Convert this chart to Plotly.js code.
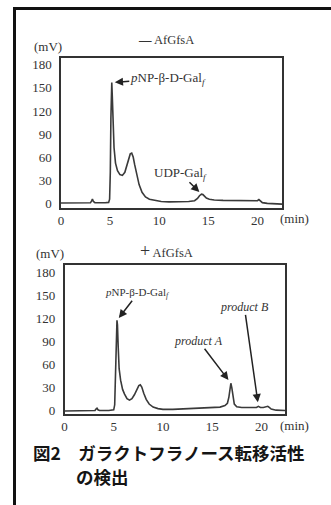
<!DOCTYPE html>
<html>
<head>
<meta charset="utf-8">
<script src="https://cdn.plot.ly/plotly-3.0.1.min.js"></script>
<style>
html,body{margin:0;padding:0;background:#fff;}
#wrap{position:relative;width:331px;height:505px;overflow:hidden;}
.panel{position:absolute;left:0;width:331px;}
.cap{position:absolute;font-family:"Noto Sans CJK JP","Noto Sans",sans-serif;font-weight:bold;font-size:17.5px;line-height:24px;color:#151515;white-space:nowrap;}
.rule{position:absolute;background:#111;}
</style>
</head>
<body>
<div id="wrap">
<div class="panel" id="chartTop" style="top:0px;height:232px;"></div>
<div class="panel" id="chartBottom" style="top:232px;height:212px;"></div>
<div class="cap" id="cap1" style="left:33px;top:441px;"></div>
<div class="cap" id="cap2" style="left:76px;top:465px;"></div>
<div class="rule" style="left:13px;top:7px;width:2.6px;height:498px;"></div>
<div class="rule" style="left:13px;top:7px;width:318px;height:2.6px;"></div>
</div>
<script>
// ---- Data ----
// Top panel: − AfGfsA
const timeMinus = [0, 1, 2, 3.0, 3.1, 3.2, 3.3, 3.45, 4.5, 4.85, 4.95, 5.02, 5.08, 5.13, 5.17, 5.22, 5.3, 5.4, 5.55, 5.75, 6.0, 6.25, 6.5, 6.7, 6.9, 7.05, 7.2, 7.35, 7.5, 7.7, 7.95, 8.25, 8.6, 9.0, 9.5, 10.2, 11, 12, 13, 13.6, 13.9, 14.1, 14.3, 14.45, 14.6, 14.8, 15.1, 15.6, 16.5, 18, 19.5, 20.0, 20.15, 20.3, 20.5, 21, 22, 22.5];
const signalMinus = [0, 0, 0, 0.3, 2.5, 5, 2, 0.5, 0.3, 0.8, 5, 40, 110, 150, 157, 140, 100, 72, 52, 42, 37, 36, 40, 48, 58, 64, 65, 60, 50, 37, 24, 14, 8, 5, 3.5, 2, 1.5, 1.5, 2, 3, 6, 9.5, 11.5, 11, 8.5, 6.5, 5, 4, 3.5, 3, 2.8, 3, 4.5, 2.5, 0.5, -0.5, -1.5, -1.5];
// Bottom panel: + AfGfsA
const timePlus = [0, 1, 2, 3.1, 3.2, 3.3, 3.4, 3.55, 4.5, 5.0, 5.1, 5.2, 5.27, 5.33, 5.38, 5.45, 5.55, 5.7, 5.9, 6.1, 6.35, 6.6, 6.85, 7.1, 7.35, 7.55, 7.7, 7.85, 8.05, 8.3, 8.6, 9.0, 9.5, 10, 11, 12, 13, 14, 15, 15.8, 16.3, 16.55, 16.7, 16.8, 16.9, 17.0, 17.1, 17.25, 17.5, 18, 19, 19.5, 19.7, 19.9, 20.2, 20.5, 20.65, 20.8, 21.0, 21.5, 22.4];
const signalPlus = [0, 0, 0, 0.5, 2.5, 3.5, 1.5, 0.5, 0.5, 1.5, 8, 45, 95, 118, 112, 85, 55, 40, 28, 22, 16, 14, 16, 21, 28, 33, 34, 31, 23, 15, 9, 5, 3, 2, 2, 2.5, 3, 3.5, 4.5, 5, 7, 10, 18, 29, 36, 30, 18, 9, 5.5, 4.5, 4.5, 4.5, 6, 4.5, 4.5, 5, 6, 4.5, 2.5, 1, 0.5];

const xTicks = [0, 5, 10, 15, 20];
const yTicks = [0, 30, 60, 90, 120, 150, 180];
const titleMinus = '<b>—</b> AfGfsA';
const titlePlus = '<span style="font-size:18px">+</span> AfGfsA';
const unitY = '(mV)';
const unitX = '(min)';
const labelPNP = '<i>p</i>NP-β-D-Gal<i><sub>f</sub></i>';
const labelUDP = 'UDP-Gal<i><sub>f</sub></i>';
const labelA = '<i>product A</i>';
const labelB = '<i>product B</i>';
const captionLine1 = '図2　ガラクトフラノース転移活性';
const captionLine2 = 'の検出';

document.getElementById('cap1').textContent = captionLine1;
document.getElementById('cap2').textContent = captionLine2;

// ---- helpers ----
const W = 331;
const serif = 'Liberation Serif, Times New Roman, serif';
const textCol = '#333';

function peakIn(t, y, lo, hi) {
  let best = -1;
  for (let i = 0; i < t.length; i++) {
    if (t[i] >= lo && t[i] <= hi && (best < 0 || y[i] > y[best])) best = i;
  }
  return {x: t[best], y: y[best]};
}

function drawPanel(divId, H, t, y, box, xRange, yRange, texts, pointers) {
  const px = v => v / W;
  const py = v => 1 - v / H;
  const label = (text, cx, cy, size) => ({xref: 'paper', yref: 'paper', x: px(cx), y: py(cy), text: text,
      showarrow: false, xanchor: 'center', yanchor: 'middle',
      font: {family: serif, size: size, color: textCol}});
  const pointer = (p, text, size, ax, ay, standoff) => ({xref: 'x', yref: 'y', x: p.x, y: p.y,
      ax: ax, ay: ay, text: text, showarrow: true, arrowhead: 2, arrowsize: 1.1, arrowwidth: 1.5,
      arrowcolor: '#222', standoff: standoff, borderpad: 0,
      font: {family: serif, size: size, color: textCol}});
  const axisCommon = {
    showline: true, mirror: true, linecolor: '#333', linewidth: 1.6,
    showgrid: false, zeroline: false, ticks: '', fixedrange: true,
    ticklabeloverflow: 'allow',
    tickfont: {family: serif, size: 13, color: textCol}
  };
  const layout = {
    width: W, height: H,
    margin: {l: 0, r: 0, t: 0, b: 0, pad: 0, autoexpand: false},
    paper_bgcolor: 'rgba(0,0,0,0)', plot_bgcolor: '#fff',
    showlegend: false,
    xaxis: Object.assign({}, axisCommon, {domain: [px(box.l), px(box.r)], range: xRange, tickvals: xTicks}),
    yaxis: Object.assign({}, axisCommon, {domain: [py(box.b), py(box.t)], range: yRange, tickvals: yTicks,
           ticklabelstandoff: 5}),
    annotations: texts.map(a => label(a[0], a[1], a[2], a[3]))
      .concat(pointers.map(a => pointer(a[0], a[1], a[2], a[3], a[4], a[5])))
  };
  const trace = {x: t, y: y, mode: 'lines', line: {color: '#3a3a3a', width: 1.6}, hoverinfo: 'skip'};
  return Plotly.newPlot(divId, [trace], layout, {staticPlot: true, displayModeBar: false});
}

// Top panel (figure-local pixels: figure spans page y 0..232)
drawPanel('chartTop', 232, timeMinus, signalMinus,
  {l: 61, r: 282, t: 58, b: 208}, [0, 22.5], [-6.5, 189],
  [[titleMinus, 166, 40, 12.5], [unitY, 48, 46, 13], [unitX, 294, 218, 13]],
  [[peakIn(timeMinus, signalMinus, 4, 6), labelPNP, 13, 56, -4, 3],
   [peakIn(timeMinus, signalMinus, 13, 15.5), labelUDP, 13, -21, -21, 3]]);

// Bottom panel (figure spans page y 232..444)
drawPanel('chartBottom', 212, timePlus, signalPlus,
  {l: 64.5, r: 285, t: 33, b: 182}, [0, 22.4], [-4, 190],
  [[titlePlus, 166, 19, 12.5], [unitY, 50, 21, 13], [unitX, 294, 193, 13]],
  [[peakIn(timePlus, signalPlus, 4, 6), labelPNP, 11, 21, -27, 3],
   [peakIn(timePlus, signalPlus, 16, 18), labelA, 12, -32, -42, 4],
   [peakIn(timePlus, signalPlus, 19.5, 20), labelB, 12, -14, -99, 4]]);
</script>
</body>
</html>
